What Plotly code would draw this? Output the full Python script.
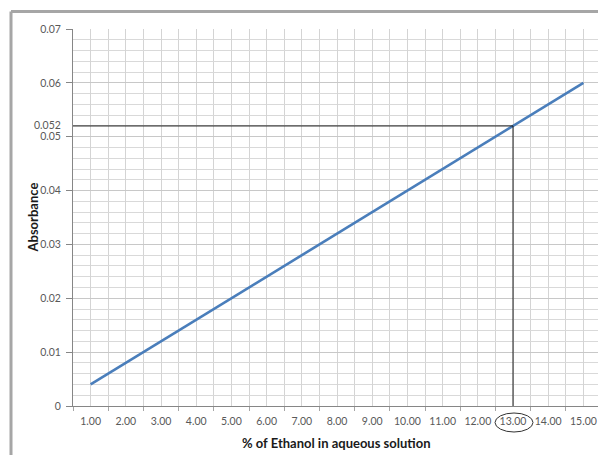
import plotly.graph_objects as go

# Data
ethanol_pct = [1, 2, 3, 4, 5, 6, 7, 8, 9, 10, 11, 12, 13, 14, 15]
x_tick_labels = ["1.00", "2.00", "3.00", "4.00", "5.00", "6.00", "7.00", "8.00",
                 "9.00", "10.00", "11.00", "12.00", "13.00", "14.00", "15.00"]
absorbance = [0.004, 0.008, 0.012, 0.016, 0.020, 0.024, 0.028, 0.032,
              0.036, 0.040, 0.044, 0.048, 0.052, 0.056, 0.060]
y_tick_vals = [0, 0.01, 0.02, 0.03, 0.04, 0.05, 0.06, 0.07]
y_tick_labels = ["0", "0.01", "0.02", "0.03", "0.04", "0.05", "0.06", "0.07"]
read_x = 13
read_y = 0.052

# Page has an 8px body margin; compensate.
OFF = 8
SW, SH = 606, 455           # screen size
ML_S, MR_S, MT_S, MB_S = 73, 5, 29, 49   # plot area on screen
W, H = SW - OFF, SH - OFF
ML, MT = ML_S - OFF, MT_S - OFF
MR, MB = MR_S, MB_S
PW = SW - ML_S - MR_S
PH = SH - MT_S - MB_S

def px(x):
    return (x - ML_S) / PW

def py(y):
    return (SH - MB_S - y) / PH

font_family = "Lato, 'Open Sans', Arial, sans-serif"
tick_color = "#595959"
TF = 10.5

fig = go.Figure()

fig.add_trace(go.Scatter(
    x=ethanol_pct, y=absorbance, mode="lines",
    line=dict(color="#4a7ebb", width=2.6),
    showlegend=False, hoverinfo="skip",
))

# Read-off lines
fig.add_trace(go.Scatter(
    x=[0.5, read_x, read_x], y=[read_y, read_y, 0], mode="lines",
    line=dict(color="#1a1a1a", width=1),
    showlegend=False, hoverinfo="skip",
))

fig.update_layout(
    width=W, height=H,
    margin=dict(l=ML, r=MR, t=MT, b=MB, autoexpand=False),
    paper_bgcolor="white", plot_bgcolor="white",
    font=dict(family=font_family, color=tick_color, size=TF),
    xaxis=dict(
        range=[0.5, 15.5],
        tickvals=ethanol_pct, ticktext=x_tick_labels,
        showgrid=True, gridcolor="#d4d4d4", gridwidth=1,
        zeroline=False,
        showline=True, linecolor="#868686", linewidth=1,
        ticks="", ticklabelstandoff=5,
        tickfont=dict(size=TF, color=tick_color),
        minor=dict(dtick=1, tick0=0.5, showgrid=True, gridcolor="#d4d4d4", gridwidth=1,
                   ticks="outside", ticklen=4, tickcolor="#a6a6a6"),
        fixedrange=True,
    ),
    yaxis=dict(
        range=[0, 0.07],
        tickvals=y_tick_vals, ticktext=y_tick_labels,
        showgrid=True, gridcolor="#c8c8c8", gridwidth=1,
        zeroline=False,
        showline=True, linecolor="#868686", linewidth=1,
        ticks="outside", ticklen=6, tickcolor="#868686",
        ticklabelstandoff=3,
        tickfont=dict(size=TF, color=tick_color),
        minor=dict(dtick=0.002, tick0=0, showgrid=True, gridcolor="#d9d9d9", gridwidth=1),
        fixedrange=True,
    ),
    shapes=[
        # Partial chart border (top and left)
        dict(type="line", xref="paper", yref="paper",
             x0=px(11), x1=px(606), y0=py(11.5), y1=py(11.5),
             line=dict(color="#a6a6a6", width=3)),
        dict(type="line", xref="paper", yref="paper",
             x0=px(11), x1=px(11), y0=py(11.5), y1=py(455),
             line=dict(color="#a6a6a6", width=3)),
        # Ellipse around 13.00
        dict(type="circle", xref="paper", yref="paper",
             x0=px(495), x1=px(533), y0=py(432), y1=py(413),
             line=dict(color="#333333", width=1)),
    ],
    annotations=[
        dict(text="<b>Absorbance</b>", textangle=-90, xref="paper", yref="paper",
             x=px(32), y=py(217.5), xanchor="center", yanchor="middle",
             showarrow=False, font=dict(size=13, color="#1a1a1a", family=font_family)),
        dict(text="<b>% of Ethanol in aqueous solution</b>", xref="paper", yref="paper",
             x=px(336), y=py(443), xanchor="center", yanchor="middle",
             showarrow=False, font=dict(size=13, color="#1a1a1a", family=font_family)),
        dict(text=str(read_y), xref="paper", yref="y",
             x=px(63), y=read_y, xanchor="right", yanchor="middle", yshift=1,
             showarrow=False, font=dict(size=TF, color=tick_color, family=font_family)),
    ],
)

fig.write_html("out.html")
